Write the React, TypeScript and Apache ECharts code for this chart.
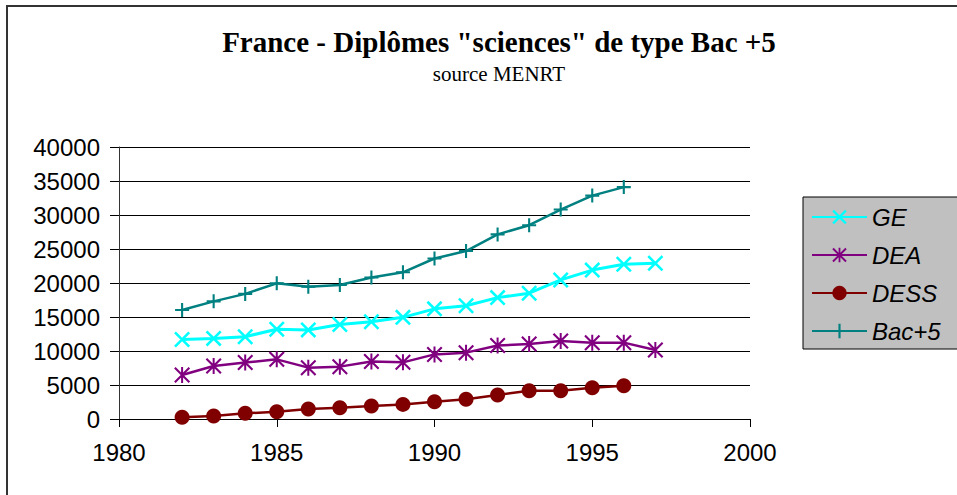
import React, { useEffect, useRef } from "react";
import * as echarts from "echarts";

const titleText = 'France - Diplômes "sciences" de type Bac +5';
const subtitleText = "source MENRT";

const years = [1982, 1983, 1984, 1985, 1986, 1987, 1988, 1989, 1990, 1991, 1992, 1993, 1994, 1995, 1996, 1997];
const geValues = [11700, 11850, 12100, 13200, 13100, 13900, 14300, 14950, 16200, 16650, 17850, 18500, 20450, 21900, 22750, 22900];
const deaValues = [6470, 7800, 8300, 8770, 7550, 7700, 8450, 8330, 9500, 9760, 10800, 11030, 11470, 11230, 11230, 10150];
const dessValues = [240, 440, 830, 1080, 1470, 1670, 1900, 2150, 2550, 2900, 3530, 4170, 4170, 4600, 4900];
const bac5Values = [16030, 17300, 18400, 19950, 19460, 19700, 20800, 21570, 23600, 24700, 27150, 28500, 30800, 32850, 34100];

const seriesNames = ["GE", "DEA", "DESS", "Bac+5"];
const seriesColors = ["#00ffff", "#800080", "#800000", "#008080"];

const X_SYMBOL = "path://M0,1.8L1.8,0L16,14.2L14.2,16ZM14.2,0L16,1.8L1.8,16L0,14.2Z";
const STAR_SYMBOL = "path://M0,1.5L1.5,0L16,14.5L14.5,16ZM14.5,0L16,1.5L1.5,16L0,14.5ZM7,0L9,0L9,16L7,16Z";
const PLUS_SYMBOL = "path://M6.8,0L9.2,0L9.2,16L6.8,16ZM0,6.8L16,6.8L16,9.2L0,9.2Z";

const pairs = (vals: number[]) => vals.map((v, i) => [years[i], v]);

export default function App() {
  const ref = useRef<HTMLDivElement>(null);
  useEffect(() => {
    if (!ref.current) return;
    const chart = echarts.init(ref.current, null, { renderer: "svg" });
    const axisFont = { fontFamily: "Liberation Sans", fontSize: 24, color: "#000" };
    chart.setOption({
      animation: false,
      backgroundColor: "#fff",
      title: {
        text: titleText,
        subtext: subtitleText,
        left: 499,
        top: 27,
        textAlign: "center",
        padding: 0,
        itemGap: 7,
        textStyle: { fontFamily: "Liberation Serif", fontWeight: "bold", fontSize: 29, color: "#000" },
        subtextStyle: { fontFamily: "Liberation Serif", fontSize: 21, color: "#000" },
      },
      graphic: [
        {
          type: "rect",
          shape: { x: 7, y: 6, width: 980, height: 520 },
          style: { fill: "none", stroke: "#333", lineWidth: 2 },
          silent: true,
        },
      ],
      legend: {
        orient: "vertical",
        left: 803,
        top: 197,
        padding: [8, 60, 6, 8],
        itemGap: 14,
        itemWidth: 55,
        itemHeight: 18,
        backgroundColor: "#c0c0c0",
        borderColor: "#000",
        borderWidth: 1,
        data: seriesNames,
        textStyle: { fontFamily: "Liberation Sans", fontStyle: "italic", fontSize: 24, lineHeight: 24, color: "#000" },
      },
      grid: { left: 119, right: 207, top: 147, bottom: 76 },
      xAxis: {
        type: "value",
        min: 1980,
        max: 2000,
        interval: 5,
        axisLine: { lineStyle: { color: "#000", width: 1 } },
        axisTick: { show: true, length: 8, lineStyle: { color: "#000" } },
        axisLabel: { ...axisFont, margin: 21, formatter: (v: number) => String(v) },
        splitLine: { show: false },
      },
      yAxis: {
        type: "value",
        min: 0,
        max: 40000,
        interval: 5000,
        axisLine: { show: true, lineStyle: { color: "#333", width: 1 } },
        axisTick: { show: true, length: 9, lineStyle: { color: "#000" } },
        axisLabel: { ...axisFont, margin: 19, formatter: (v: number) => String(v) },
        splitLine: { show: true, lineStyle: { color: "#000", width: 1 } },
      },
      series: [
        {
          name: seriesNames[0],
          type: "line",
          data: pairs(geValues),
          color: seriesColors[0],
          symbol: X_SYMBOL,
          symbolSize: 16,
          lineStyle: { width: 3 },
        },
        {
          name: seriesNames[1],
          type: "line",
          data: pairs(deaValues),
          color: seriesColors[1],
          symbol: STAR_SYMBOL,
          symbolSize: 16,
          lineStyle: { width: 2.5 },
        },
        {
          name: seriesNames[2],
          type: "line",
          data: pairs(dessValues),
          color: seriesColors[2],
          symbol: "circle",
          symbolSize: 15,
          lineStyle: { width: 2.5 },
        },
        {
          name: seriesNames[3],
          type: "line",
          data: pairs(bac5Values),
          color: seriesColors[3],
          symbol: PLUS_SYMBOL,
          symbolSize: 14,
          lineStyle: { width: 2.5 },
        },
      ],
    });
    return () => chart.dispose();
  }, []);
  return <div ref={ref} style={{ position: "fixed", left: 0, top: 0, width: 957, height: 495 }} />;
}
